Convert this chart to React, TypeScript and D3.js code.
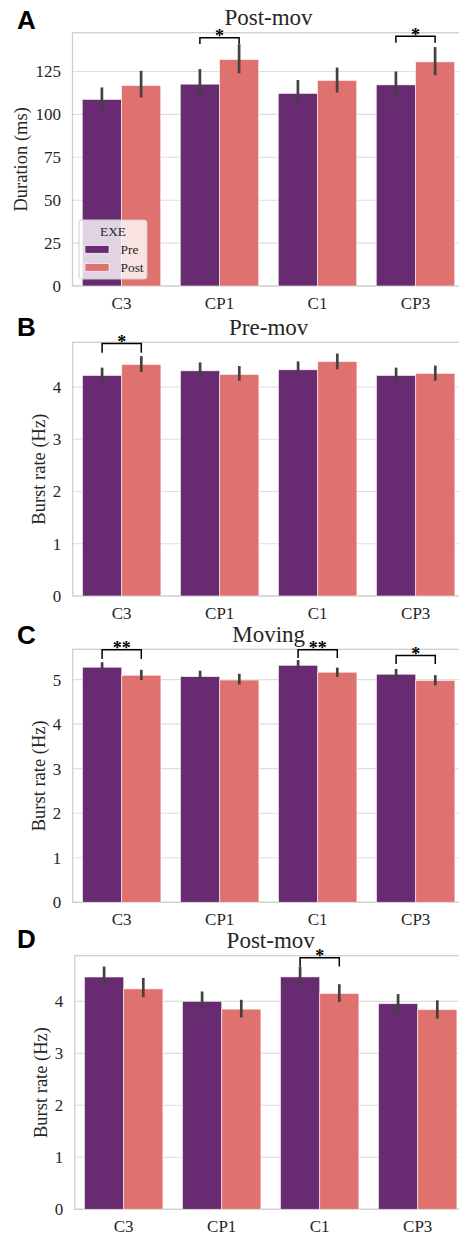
import React from "react";
import * as d3 from "d3";

// channels on the x axis, hue = session
const channels = ["C3", "CP1", "C1", "CP3"];
const sessions = ["Pre", "Post"];

// A: Post-mov burst duration (ms)
const durPre = [108.7, 117.6, 112.2, 117.2];
const durPost = [116.8, 132.0, 119.8, 130.6];
const durPreCI = [[102.5, 115.7], [110.8, 126.4], [105.8, 120.0], [109.9, 125.0]];
const durPostCI = [[109.9, 125.4], [124.0, 140.9], [112.8, 127.3], [122.9, 139.2]];
const durTicks = [0, 25, 50, 75, 100, 125];
const durSig = [
  { ch: "CP1", text: "*", base: 141.0, top: 144.7 },
  { ch: "CP3", text: "*", base: 141.8, top: 145.5 },
];

// B: Pre-mov burst rate (Hz)
const preMovPre = [4.22, 4.31, 4.33, 4.22];
const preMovPost = [4.43, 4.24, 4.485, 4.26];
const preMovPreCI = [[4.08, 4.37], [4.16, 4.47], [4.2, 4.49], [4.08, 4.37]];
const preMovPostCI = [[4.29, 4.59], [4.12, 4.4], [4.34, 4.64], [4.12, 4.41]];
const preMovSig = [{ ch: "C3", text: "*", base: 4.656, top: 4.83 }];

// C: Moving burst rate (Hz)
const movPre = [5.277, 5.067, 5.32, 5.12];
const movPost = [5.097, 4.99, 5.165, 4.98];
const movPreCI = [[5.19, 5.39], [4.97, 5.2], [5.21, 5.44], [5.01, 5.24]];
const movPostCI = [[4.99, 5.22], [4.89, 5.13], [5.06, 5.27], [4.87, 5.1]];
const movSig = [
  { ch: "C3", text: "**", base: 5.46, top: 5.67 },
  { ch: "C1", text: "**", base: 5.485, top: 5.67 },
  { ch: "CP3", text: "*", base: 5.35, top: 5.54 },
];

// D: Post-mov burst rate (Hz)
const postMovPre = [4.468, 4.0, 4.47, 3.955];
const postMovPost = [4.24, 3.85, 4.15, 3.84];
const postMovPreCI = [[4.29, 4.67], [3.84, 4.19], [4.29, 4.67], [3.78, 4.14]];
const postMovPostCI = [[4.08, 4.45], [3.69, 4.03], [3.99, 4.33], [3.67, 4.02]];
const postMovSig = [{ ch: "C1", text: "*", base: 4.67, top: 4.84 }];

const rateTicks4 = [0, 1, 2, 3, 4];
const rateTicks5 = [0, 1, 2, 3, 4, 5];

const colors = { Pre: "#682a70", Post: "#df716f" };
const serif = "'Liberation Serif', 'Times New Roman', serif";
const ink = "#262626";

function Panel(props) {
  const { letter, letterY, title, ylabel, ylabelX, top, bottom, left, right, yMax, ticks, pre, post, preCI, postCI, sig, legend } = props;
  const x = d3.scaleBand().domain(channels).range([left, right]).padding(0);
  const bw = x.bandwidth();
  const xs = d3.scaleBand().domain(sessions).range([bw * 0.1, bw * 0.9]).padding(0);
  const y = d3.scaleLinear().domain([0, yMax]).range([bottom, top]);
  const rows = channels.flatMap((c, i) => [
    { c, s: "Pre", v: pre[i], ci: preCI[i] },
    { c, s: "Post", v: post[i], ci: postCI[i] },
  ]);
  const cx = (c, s) => x(c) + xs(s) + xs.bandwidth() / 2;
  const midX = (left + right) / 2;
  return (
    <g>
      <text x={17} y={letterY} fontFamily="'Liberation Sans', Arial, sans-serif" fontWeight="bold" fontSize={26} fill="#000">{letter}</text>
      <text x={midX} y={top - 7.3} textAnchor="middle" fontFamily={serif} fontSize={23} fill={ink}>{title}</text>
      {ticks.map((t) => (
        <g key={t}>
          <line x1={left} x2={right} y1={y(t)} y2={y(t)} stroke="#dedede" strokeWidth={1.1} />
          <text x={left - 11.5} y={y(t)} dy="0.35em" textAnchor="end" fontFamily={serif} fontSize={17} fill={ink}>{t}</text>
        </g>
      ))}
      <rect x={left} y={top} width={right - left} height={bottom - top} fill="none" stroke="#cfcfcf" strokeWidth={1.3} />
      {rows.map((r) => (
        <rect key={r.c + r.s} x={x(r.c) + xs(r.s)} y={y(r.v)} width={xs.bandwidth()} height={bottom - y(r.v)}
          fill={colors[r.s]} stroke="#ffffff" strokeOpacity={0.7} strokeWidth={0.8} />
      ))}
      {rows.map((r) => (
        <line key={"e" + r.c + r.s} x1={cx(r.c, r.s)} x2={cx(r.c, r.s)} y1={y(r.ci[0])} y2={y(r.ci[1])}
          stroke="#424242" strokeWidth={2.7} />
      ))}
      {sig.map((s) => {
        const x0 = cx(s.ch, "Pre");
        const x1 = cx(s.ch, "Post");
        return (
          <g key={"s" + s.ch}>
            <path d={`M${x0},${y(s.base)}V${y(s.top)}H${x1}V${y(s.base)}`} fill="none" stroke="#000" strokeWidth={1.5} />
            <text x={(x0 + x1) / 2} y={y(s.top) + 4.5} textAnchor="middle" fontFamily={serif} fontWeight="bold" fontSize={18} fill="#000">{s.text}</text>
          </g>
        );
      })}
      {channels.map((c) => (
        <text key={"l" + c} x={x(c) + bw / 2} y={bottom + 23} textAnchor="middle" fontFamily={serif} fontSize={17} fill={ink}>{c}</text>
      ))}
      <text transform={`translate(${ylabelX},${(top + bottom) / 2}) rotate(-90)`} dy="0.35em" textAnchor="middle"
        fontFamily={serif} fontSize={18.5} fill={ink}>{ylabel}</text>
      {legend && (
        <g>
          <rect x={79} y={220} width={68} height={59} rx={2.5} fill="#ffffff" fillOpacity={0.8} stroke="#cccccc" strokeWidth={1} />
          <text x={113} y={231} dy="0.35em" textAnchor="middle" fontFamily={serif} fontSize={13.4} fill={ink}>EXE</text>
          {sessions.map((s, i) => (
            <g key={"lg" + s}>
              <rect x={85} y={245.7 + i * 18} width={24} height={7.5} fill={colors[s]} stroke="#fff" strokeWidth={0.6} />
              <text x={120.5} y={249.5 + i * 18} dy="0.35em" fontFamily={serif} fontSize={13.4} fill={ink}>{s}</text>
            </g>
          ))}
        </g>
      )}
    </g>
  );
}

export default function App() {
  return (
    <svg width={459} height={1235} style={{ position: "absolute", left: 0, top: 0, background: "#fff" }}>
      <rect width={459} height={1235} fill="#fff" />
      <Panel letter="A" letterY={29} title="Post-mov" ylabel="Duration (ms)" ylabelX={20.5}
        top={32.7} bottom={286} left={72.5} right={464.5} yMax={147.6} ticks={durTicks}
        pre={durPre} post={durPost} preCI={durPreCI} postCI={durPostCI} sig={durSig} legend />
      <Panel letter="B" letterY={336} title="Pre-mov" ylabel="Burst rate (Hz)" ylabelX={39}
        top={342.3} bottom={596} left={72.7} right={464.7} yMax={4.855} ticks={rateTicks4}
        pre={preMovPre} post={preMovPost} preCI={preMovPreCI} postCI={preMovPostCI} sig={preMovSig} />
      <Panel letter="C" letterY={644} title="Moving" ylabel="Burst rate (Hz)" ylabelX={39}
        top={649.3} bottom={902.3} left={72.7} right={464.7} yMax={5.68} ticks={rateTicks5}
        pre={movPre} post={movPost} preCI={movPreCI} postCI={movPostCI} sig={movSig} />
      <Panel letter="D" letterY={948} title="Post-mov" ylabel="Burst rate (Hz)" ylabelX={41}
        top={955.7} bottom={1209.3} left={74.7} right={466.7} yMax={4.878} ticks={rateTicks4}
        pre={postMovPre} post={postMovPost} preCI={postMovPreCI} postCI={postMovPostCI} sig={postMovSig} />
    </svg>
  );
}
